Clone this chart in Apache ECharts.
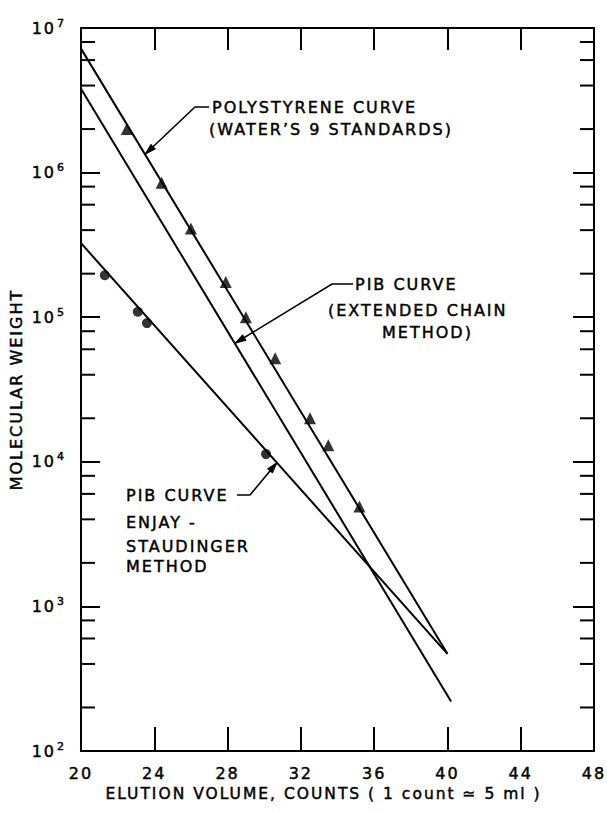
<!DOCTYPE html>
<html>
<head>
<meta charset="utf-8">
<script src="https://cdn.jsdelivr.net/npm/echarts@6/dist/echarts.min.js"></script>
<style>
  html, body { margin: 0; padding: 0; background: #fff; }
  #chart { width: 607px; height: 813px; }
  /* hand-lettered look: spaced capitals with a slightly heavier pen */
  #chart text { letter-spacing: 2px; stroke: #000; stroke-width: 0.45px; }
</style>
</head>
<body>
<div id="chart"></div>
<script>
// ---- axis ticks -------------------------------------------------------
const xTicks = [20, 24, 28, 32, 36, 40, 44, 48];
const yDecades = [1e2, 1e3, 1e4, 1e5, 1e6, 1e7];
const yExponents = ['2', '3', '4', '5', '6', '7'];
const minorMultipliers = [2, 4, 6, 8];

// ---- measured points (elution count, molecular weight) ----------------
const polystyreneStandards = [
  [22.5, 2.0e6], [24.4, 8.5e5], [26.0, 4.1e5], [27.9, 1.75e5], [29.0, 1.0e5],
  [30.6, 5.2e4], [32.5, 2.0e4], [33.5, 1.3e4], [35.2, 4.9e3]
];
const pibEnjayPoints = [[21.3, 1.95e5], [23.1, 1.09e5], [23.6, 9.1e4], [30.1, 1.13e4]];

// ---- calibration lines ------------------------------------------------
const polystyreneCurve = [[20, 7.2e6], [40, 470]];
const pibExtendedCurve = [[20, 3.8e6], [40.2, 220]];
const pibEnjayCurve = [[20, 3.25e5], [40, 470]];

// ---- callout anchors on the lines -------------------------------------
const polystyreneTip = [23.5, 1.34e6];
const pibExtendedTip = [28.4, 6.6e4];
const pibEnjayTip = [30.7, 9.9e3];

const FONT = '"DejaVu Sans", sans-serif';
const INK = '#000';

const minorTickValues = [];
yDecades.slice(0, -1).forEach(d => minorMultipliers.forEach(m => minorTickValues.push([xTicks[0], d * m])));

const chart = echarts.init(document.getElementById('chart'), null, { renderer: 'svg' });

const axisLine = { show: true, onZero: false, lineStyle: { color: INK, width: 2 } };

const option = {
  backgroundColor: '#fff',
  animation: false,
  grid: { left: 81, right: 13, top: 28, bottom: 62, containLabel: false, outerBoundsMode: 'none' },
  xAxis: [
    {
      type: 'value', position: 'bottom',
      min: xTicks[0], max: xTicks[xTicks.length - 1], interval: 4,
      axisLine,
      axisTick: { show: true, inside: true, length: 24, lineStyle: { color: INK, width: 2 } },
      axisLabel: { show: true, color: INK, fontSize: 16, fontFamily: FONT, margin: 14,
        formatter: v => { const i = xTicks.indexOf(Math.round(v)); return i >= 0 ? String(xTicks[i]) : ''; } },
      splitLine: { show: false },
      name: 'ELUTION VOLUME, COUNTS ( 1 count \u2243 5 ml )',
      nameLocation: 'middle', nameGap: 33,
      nameTextStyle: { color: INK, fontSize: 15.5, fontFamily: FONT, padding: [0, 28, 0, 0] }
    },
    {
      type: 'value', position: 'top',
      min: xTicks[0], max: xTicks[xTicks.length - 1], interval: 4,
      axisLine,
      axisTick: { show: true, inside: true, length: 22, lineStyle: { color: INK, width: 2 } },
      axisLabel: { show: false },
      splitLine: { show: false }
    }
  ],
  yAxis: [
    {
      type: 'log', logBase: 10, position: 'left',
      min: yDecades[0], max: yDecades[yDecades.length - 1],
      axisLine,
      axisTick: { show: true, inside: true, length: 19, lineStyle: { color: INK, width: 2 } },
      minorTick: { show: false },
      axisLabel: {
        show: true, margin: 15,
        formatter: v => {
          const i = Math.round(Math.log10(v)) - 2;
          return (i >= 0 && i < yExponents.length) ? '{b|10}{s|' + yExponents[i] + '}' : '';
        },
        rich: {
          b: { fontSize: 16, fontFamily: FONT, color: INK },
          s: { fontSize: 11, fontFamily: FONT, color: INK, padding: [0, 0, 10, 3] }
        }
      },
      splitLine: { show: false },
      name: 'MOLECULAR WEIGHT',
      nameLocation: 'middle', nameGap: 49, nameRotate: 90,
      nameTextStyle: { color: INK, fontSize: 16, fontFamily: FONT }
    },
    {
      type: 'log', logBase: 10, position: 'right',
      min: yDecades[0], max: yDecades[yDecades.length - 1],
      axisLine,
      axisTick: { show: true, inside: true, length: 21, lineStyle: { color: INK, width: 2 } },
      axisLabel: { show: false },
      splitLine: { show: false }
    }
  ],
  series: [
    {
      // intermediate log ticks (2, 4, 6, 8 x decade) on both frame sides
      type: 'custom', silent: true, clip: false, z: 3,
      xAxisIndex: 0, yAxisIndex: 0,
      data: minorTickValues,
      renderItem: (params, api) => {
        const v = api.value(1);
        const l = api.coord([xTicks[0], v]);
        const r = api.coord([xTicks[xTicks.length - 1], v]);
        const st = { stroke: INK, lineWidth: 2 };
        return {
          type: 'group',
          children: [
            { type: 'line', shape: { x1: l[0], y1: l[1], x2: l[0] + 14, y2: l[1] }, style: st },
            { type: 'line', shape: { x1: r[0] - 14, y1: r[1], x2: r[0], y2: r[1] }, style: st }
          ]
        };
      }
    },
    { name: 'Polystyrene curve', type: 'line', data: polystyreneCurve, symbol: 'none',
      lineStyle: { color: INK, width: 2 }, z: 4 },
    { name: 'PIB extended chain', type: 'line', data: pibExtendedCurve, symbol: 'none',
      lineStyle: { color: INK, width: 2 }, z: 4 },
    { name: 'PIB Enjay-Staudinger', type: 'line', data: pibEnjayCurve, symbol: 'none',
      lineStyle: { color: INK, width: 2 }, z: 4 },
    { name: 'Polystyrene standards', type: 'scatter', data: polystyreneStandards,
      symbol: 'triangle', symbolSize: 12, itemStyle: { color: INK }, z: 5 },
    { name: 'PIB Enjay points', type: 'scatter', data: pibEnjayPoints,
      symbol: 'circle', symbolSize: 10, itemStyle: { color: INK }, z: 5 }
  ]
};

chart.setOption(option);

// ---- callouts ---------------------------------------------------------
const toPx = p => chart.convertToPixel({ xAxisIndex: 0, yAxisIndex: 0 }, p);

function label(text, x, y) {
  return {
    type: 'text', z: 10, silent: true,
    style: { text, x, y, fill: INK, font: '16px ' + FONT,
      align: 'left', verticalAlign: 'middle', textAlign: 'left', textVerticalAlign: 'middle' }
  };
}

function leader(points, tipData) {
  const tip = toPx(tipData);
  const pts = points.concat([tip]);
  const a = pts[pts.length - 2];
  const dx = tip[0] - a[0], dy = tip[1] - a[1];
  const len = Math.hypot(dx, dy);
  const ux = dx / len, uy = dy / len;
  const bx = tip[0] - ux * 11, by = tip[1] - uy * 11;
  const nx = -uy * 3.2, ny = ux * 3.2;
  return [
    { type: 'polyline', z: 10, silent: true, shape: { points: pts },
      style: { stroke: INK, lineWidth: 1.6, fill: null } },
    { type: 'polygon', z: 10, silent: true,
      shape: { points: [tip, [bx + nx, by + ny], [bx - nx, by - ny]] },
      style: { fill: INK, stroke: INK, lineWidth: 1 } }
  ];
}

const graphics = [
  label('POLYSTYRENE CURVE', 212, 107),
  label('(WATER\u2019S 9 STANDARDS)', 209, 129),
  ...leader([[209, 107], [195, 107]], polystyreneTip),

  label('PIB CURVE', 355, 284),
  label('(EXTENDED CHAIN', 328, 310),
  label('METHOD)', 382, 332),
  ...leader([[353, 284], [332, 284]], pibExtendedTip),

  label('PIB CURVE', 126, 495),
  label('ENJAY -', 126, 522),
  label('STAUDINGER', 126, 546),
  label('METHOD', 126, 566),
  ...leader([[237, 495], [250, 495]], pibEnjayTip)
];

chart.setOption({ graphic: { elements: graphics } });
</script>
</body>
</html>
